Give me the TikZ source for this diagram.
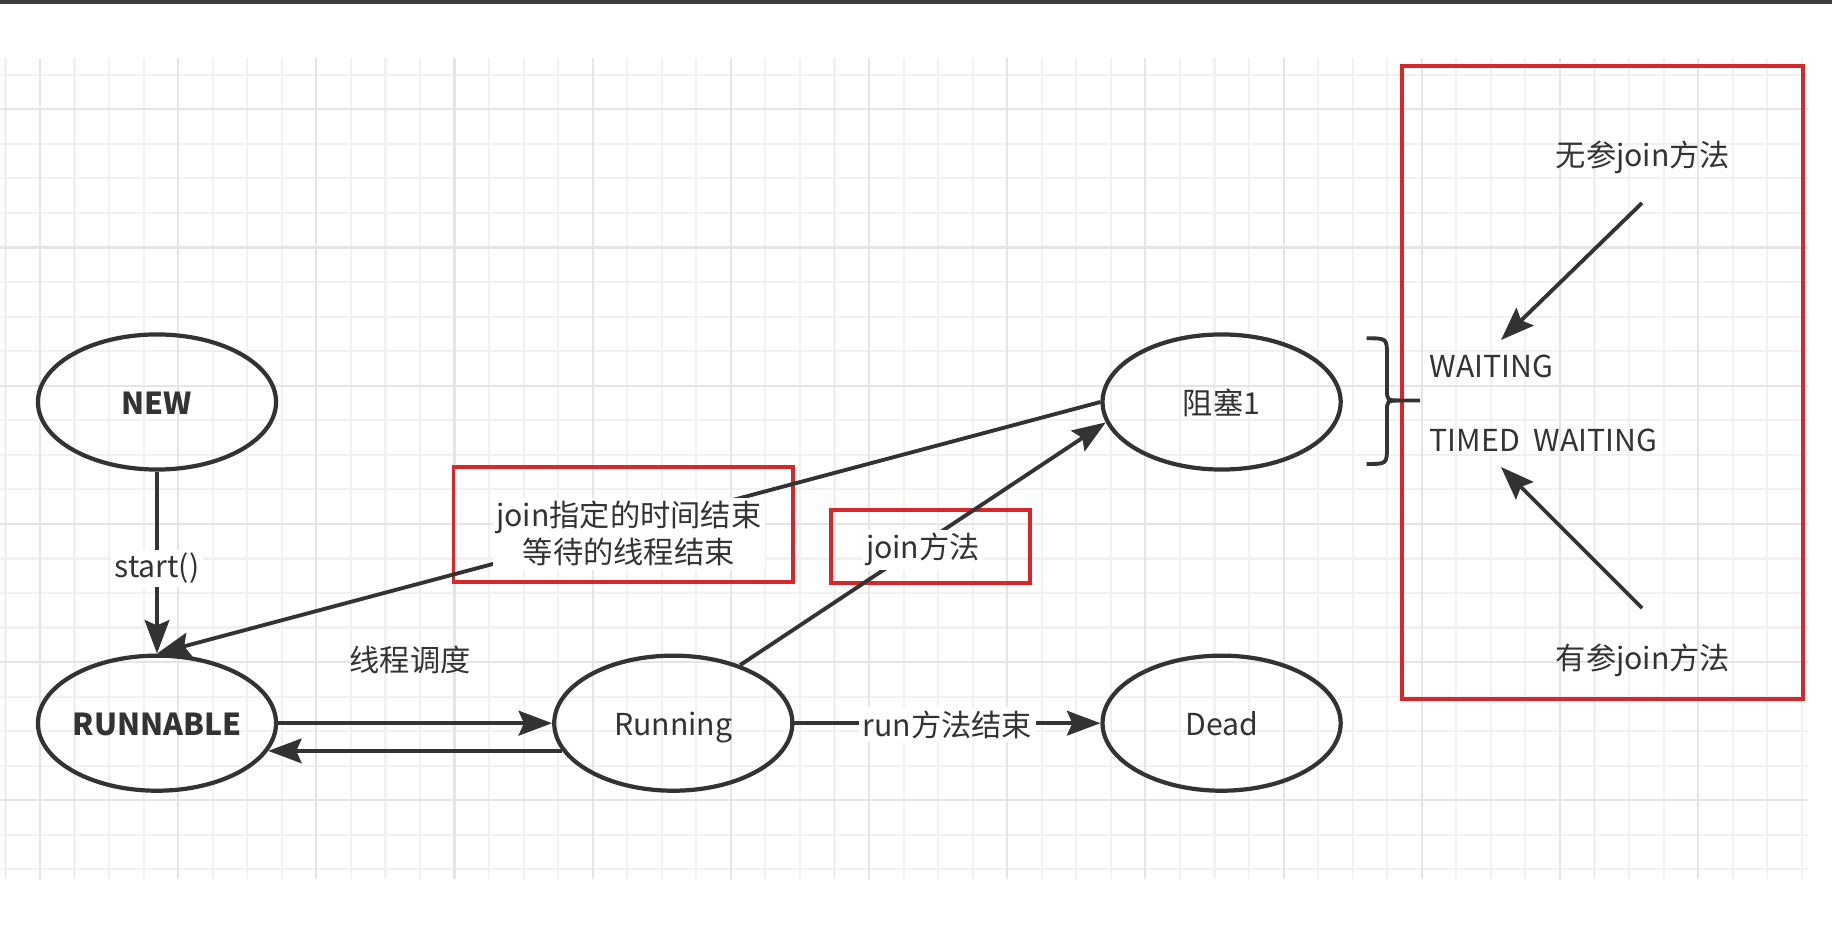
\documentclass[tikz,border=0pt]{standalone}
\usepackage{fontspec}
\setmainfont{Noto Sans CJK SC}
\usetikzlibrary{positioning,arrows.meta,shapes.geometric}
\definecolor{ink}{RGB}{51,51,51}
\definecolor{mark}{RGB}{214,40,40}
\definecolor{gridminor}{RGB}{241,241,241}
\definecolor{gridmajor}{RGB}{229,229,229}
\definecolor{topbar}{RGB}{60,60,60}
\tikzstyle{every phase} = []
\tikzstyle{phase} = [ellipse, draw=ink, line width=1.2pt, inner sep=0pt, inner xsep=-0.5cm, minimum width=2.38cm, minimum height=1.35cm, text height=0.72em, text depth=0pt, text=ink, font=\fontsize{8.6pt}{10pt}\selectfont, every phase]
\tikzstyle{link} = [-{Stealth[length=9.5pt,width=7pt,inset=1.5pt]}, draw=ink, line width=1.1pt]
\tikzstyle{tag} = [fill=white, inner sep=1pt, yshift=-1.7pt, text=ink, font=\fontsize{8.6pt}{10.5pt}\selectfont]
\tikzstyle{plain} = [inner sep=0pt, text=ink, font=\fontsize{8.6pt}{10pt}\selectfont]
\tikzstyle{redbox} = [draw=mark, line width=1.1pt, inner sep=0pt]

\begin{document}
\begin{tikzpicture}[x=0.01cm, y=-0.01cm, node distance=3.21cm]
                    \useasboundingbox (0,0) rectangle (1832,946);
                    \fill[topbar] (0,0) rectangle (1832,4.3);
                    \foreach \i in {0,...,52}
                        \draw[gridminor, line width=0.6pt] ({5.45+\i*34.545},58.3) -- ({5.45+\i*34.545},879);
                    \foreach \j in {0,...,23}
                        \draw[gridminor, line width=0.6pt] (0,{74.75+\j*34.55}) -- (1808,{74.75+\j*34.55});
                    \foreach \i in {1,5,...,49}
                        \draw[gridmajor, line width=0.6pt] ({5.45+\i*34.545},58.3) -- ({5.45+\i*34.545},879);
                    \foreach \j in {1,5,...,21}
                        \draw[gridmajor, line width=0.6pt] (0,{74.75+\j*34.55}) -- (1808,{74.75+\j*34.55});

                    \node[phase, font=\fontsize{8.6pt}{10pt}\selectfont\bfseries] (new) at (157,402) {NEW};
                    \node[phase, font=\fontsize{8.6pt}{10pt}\selectfont\bfseries] (runnable) [below of=new] {RUNNABLE};
                    \node[phase] (running) [right of=runnable, node distance=5.16cm] {Running};
                    \node[phase] (dead) [right of=running, node distance=5.48cm] {Dead};
                    \node[phase] (block) [above of=dead] {阻塞1};

                    \node[redbox, minimum width=3.393cm, minimum height=1.156cm] (endbox) at (623.2,524.5) {};
                    \node[redbox, minimum width=1.996cm, minimum height=0.733cm] (joinbox) at (930.5,546.7) {};
                    \node[redbox, minimum width=4.013cm, minimum height=6.33cm] (waitbox) at (1602.4,382.5) {};

                    \draw[link] (new) -- node[tag] {start()} (runnable);
                    \draw[link, line width=1.3pt] (runnable) -- (running);
                    \draw[link] (running.194) -- (runnable.-14);
                    \draw[link] (running) -- node[tag, yshift=1.2pt] {run方法结束} (dead);
                    \draw[link] (running.41) -- node[tag] {join方法} (block.190);
                    \draw[link] (block.west) -- node[tag, align=center] {join指定的时间结束\\等待的线程结束} (runnable.north);
                    \node[plain] (sched) at (410,660) {线程调度};

                    \draw[ink, line width=1.1pt] (1366.7,338.3) .. controls (1387,338.3) .. (1387,356) -- (1387,389) .. controls (1387,400.5) .. (1400,400.5) -- (1420,400.5);
                    \draw[ink, line width=1.1pt] (1400,400.5) .. controls (1387,400.5) .. (1387,412) -- (1387,446) .. controls (1387,464) .. (1366.7,464);

                    \node[plain, anchor=west] (waiting) at (1429,366.7) {WAITING};
                    \node[plain, anchor=west] (timed) at (1429,440) {TIMED\hspace{0.45em}WAITING};
                    \node[plain] (wucan) at (1643,157) {无参join方法};
                    \node[plain] (youcan) at (1643,660) {有参join方法};
                    \coordinate (wucanTail) at (1642,203);
                    \coordinate (waitingHead) at (1501,340);
                    \coordinate (youcanTail) at (1642,608);
                    \coordinate (timedHead) at (1501,467);
                    \draw[link] (wucanTail) -- (waitingHead);
                    \draw[link] (youcanTail) -- (timedHead);
                \end{tikzpicture}
\end{document}
